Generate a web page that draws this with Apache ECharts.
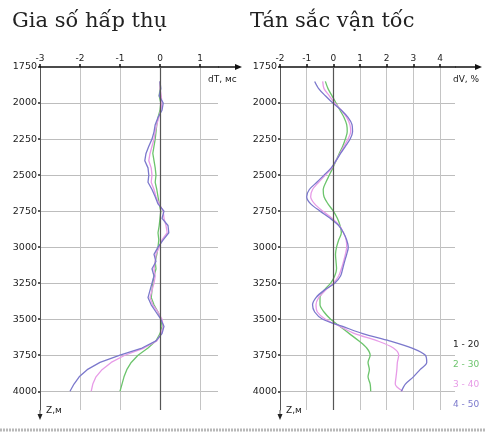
<!DOCTYPE html>
<html>
<head>
<meta charset="utf-8">
<script src="https://cdn.jsdelivr.net/npm/echarts@6/dist/echarts.min.js"></script>
<style>
  html, body { margin: 0; padding: 0; background: #fff; }
  #chart { width: 486px; height: 432px; }
</style>
</head>
<body>
<div id="chart"></div>
<script>
// Depth samples (m) and curve values for each panel
const depthLeft = [1850, 1900, 1950, 2000, 2050, 2100, 2150, 2200, 2250, 2300, 2350, 2400, 2450, 2500, 2550, 2600, 2650, 2700, 2750, 2800, 2850, 2900, 2950, 3000, 3050, 3100, 3150, 3200, 3250, 3300, 3350, 3400, 3450, 3500, 3550, 3600, 3650, 3700, 3750, 3800, 3850, 3900, 3950, 4000];
// dT, ms — absorption increment
const dT2 = [0, 0, -0.02, 0.02, 0, -0.05, -0.08, -0.1, -0.12, -0.15, -0.18, -0.15, -0.12, -0.1, -0.12, -0.08, -0.05, -0.02, 0.02, 0, -0.02, -0.05, -0.03, -0.05, -0.08, -0.12, -0.1, -0.15, -0.18, -0.2, -0.22, -0.15, -0.05, 0.03, 0.05, 0, -0.1, -0.3, -0.55, -0.72, -0.83, -0.9, -0.95, -1.0];
const dT3 = [0, 0, 0.03, 0.05, 0.02, -0.03, -0.08, -0.12, -0.15, -0.2, -0.25, -0.28, -0.22, -0.2, -0.22, -0.15, -0.1, -0.02, 0.08, 0.1, 0.15, 0.18, 0.05, -0.02, -0.1, -0.12, -0.15, -0.12, -0.15, -0.2, -0.25, -0.18, -0.05, 0.05, 0.08, 0.03, -0.08, -0.4, -0.88, -1.22, -1.45, -1.6, -1.68, -1.72];
const dT4 = [0, 0.02, -0.02, 0.08, 0.05, -0.05, -0.12, -0.15, -0.2, -0.28, -0.35, -0.38, -0.3, -0.28, -0.3, -0.2, -0.12, -0.05, 0.1, 0.05, 0.2, 0.22, 0.08, -0.05, -0.15, -0.1, -0.2, -0.15, -0.2, -0.25, -0.3, -0.22, -0.1, 0.02, 0.1, 0.05, -0.1, -0.45, -1.0, -1.5, -1.82, -2.02, -2.15, -2.25];

const depthRight = [1850, 1900, 1950, 2000, 2050, 2100, 2150, 2200, 2250, 2300, 2350, 2400, 2450, 2500, 2550, 2600, 2650, 2700, 2750, 2800, 2850, 2900, 2950, 3000, 3050, 3100, 3150, 3200, 3250, 3300, 3350, 3400, 3450, 3500, 3550, 3600, 3650, 3700, 3750, 3800, 3850, 3900, 3950, 4000];
// dV, % — velocity dispersion
const dV2 = [-0.3, -0.2, -0.05, 0.1, 0.25, 0.4, 0.5, 0.52, 0.45, 0.35, 0.22, 0.1, -0.02, -0.15, -0.28, -0.38, -0.35, -0.2, 0, 0.15, 0.25, 0.3, 0.2, 0.12, 0.08, 0.1, 0.12, 0.05, -0.1, -0.35, -0.5, -0.5, -0.35, -0.1, 0.25, 0.6, 0.95, 1.25, 1.38, 1.3, 1.35, 1.3, 1.38, 1.4];
const dV3 = [-0.4, -0.35, -0.15, 0.05, 0.3, 0.5, 0.62, 0.65, 0.55, 0.4, 0.25, 0.1, -0.05, -0.3, -0.55, -0.78, -0.85, -0.7, -0.4, -0.05, 0.22, 0.38, 0.48, 0.5, 0.45, 0.38, 0.3, 0.2, 0, -0.3, -0.55, -0.65, -0.6, -0.3, 0.25, 0.8, 1.65, 2.25, 2.45, 2.4, 2.38, 2.35, 2.32, 2.6];
const dV4 = [-0.7, -0.55, -0.3, -0.02, 0.3, 0.55, 0.7, 0.72, 0.63, 0.45, 0.27, 0.1, -0.08, -0.35, -0.62, -0.9, -1.0, -0.85, -0.5, -0.12, 0.2, 0.38, 0.5, 0.56, 0.5, 0.42, 0.35, 0.27, 0.05, -0.35, -0.65, -0.78, -0.7, -0.4, 0.35, 1.1, 2.1, 2.95, 3.45, 3.5, 3.25, 3.0, 2.7, 2.55];

const depthTicks = { min: 1750, max: 4130, interval: 250 };
const legendItems = ['1 - 20', '2 - 30', '3 - 40', '4 - 50'];

const COLORS = { c1: '#222222', c2: '#6cc46c', c3: '#e79be7', c4: '#7b78cc' };
const labelFont = { fontFamily: 'DejaVu Sans', fontSize: 9, color: '#222' };

function pairs(vals, depths) {
  return depths.map((d, i) => [vals[i], d]);
}

function xAxisFor(gridIndex, min, max) {
  return {
    type: 'value', gridIndex, position: 'top', min, max, interval: 1,
    axisLine: { show: true, onZero: false, lineStyle: { color: '#111', width: 1.5 } },
    axisTick: { show: true, length: 3, lineStyle: { color: '#111', width: 1.5 } },
    axisLabel: Object.assign({ margin: 4, showMaxLabel: false,
      formatter: v => (Number.isInteger(v) ? String(v) : '') }, labelFont),
    splitLine: { show: true, showMaxLine: false, lineStyle: { color: '#c4c4c4', width: 1 } }
  };
}

function yAxisFor(gridIndex) {
  return {
    type: 'value', gridIndex, inverse: true,
    min: depthTicks.min, max: depthTicks.max, interval: depthTicks.interval,
    axisLine: { show: true, onZero: false, lineStyle: { color: '#555', width: 1 } },
    axisTick: { show: true, length: 2, lineStyle: { color: '#222', width: 1.5 } },
    axisLabel: Object.assign({ margin: 3, showMaxLabel: false,
      formatter: v => (v % 250 === 0 ? String(v) : '') }, labelFont, { fontSize: 9.5 }),
    splitLine: { show: true, showMinLine: false, showMaxLine: false, lineStyle: { color: '#bdbdbd', width: 1 } }
  };
}

function curve(name, xi, data, color, smooth) {
  return {
    name, type: 'line', xAxisIndex: xi, yAxisIndex: xi, data,
    showSymbol: false, smooth, silent: true,
    lineStyle: { color, width: 1.3 }, itemStyle: { color },
    z: 3
  };
}

function zeroLine(xi) {
  return {
    type: 'line', xAxisIndex: xi, yAxisIndex: xi, data: [], silent: true,
    markLine: {
      symbol: 'none', silent: true, label: { show: false },
      lineStyle: { color: '#555', type: 'solid', width: 1.2 },
      data: [{ xAxis: 0 }]
    },
    z: 2
  };
}

function arrowRight(x0, x1, y) {
  return [
    { type: 'line', shape: { x1: x0, y1: y, x2: x1, y2: y }, style: { stroke: '#111', lineWidth: 1.5 } },
    { type: 'polygon', shape: { points: [[x1 + 3, y], [x1 - 4, y - 3], [x1 - 4, y + 3]] }, style: { fill: '#111' } }
  ];
}
function arrowDown(x, y0, y1) {
  return [
    { type: 'line', shape: { x1: x, y1: y0, x2: x, y2: y1 }, style: { stroke: '#555', lineWidth: 1 } },
    { type: 'polygon', shape: { points: [[x, y1 + 3], [x - 2.5, y1 - 3], [x + 2.5, y1 - 3]] }, style: { fill: '#222' } }
  ];
}

const smallText = (x, y, text, color) => ({
  type: 'text', x, y,
  style: { text, fill: color || '#222', font: '9px "DejaVu Sans"', textVerticalAlign: 'middle' }
});

const legendColors = [COLORS.c1, COLORS.c2, COLORS.c3, COLORS.c4];
const legendY = [345, 365, 385, 405];

const titleStyle = { fontFamily: 'DejaVu Serif', fontSize: 21, fontWeight: 'normal', color: '#222' };

const chart = echarts.init(document.getElementById('chart'), null, { renderer: 'canvas' });
chart.setOption({
  backgroundColor: '#ffffff',
  animation: false,
  title: [
    { text: 'Gia số hấp thụ', left: 7, top: 6, textStyle: titleStyle },
    { text: 'Tán sắc vận tốc', left: 245, top: 6, textStyle: titleStyle }
  ],
  grid: [
    { left: 40, top: 67, width: 178, height: 343 },
    { left: 280, top: 67, width: 175, height: 343 }
  ],
  xAxis: [xAxisFor(0, -3, 1.45), xAxisFor(1, -2, 4.56)],
  yAxis: [yAxisFor(0), yAxisFor(1)],
  series: [
    zeroLine(0),
    curve('2', 0, pairs(dT2, depthLeft), COLORS.c2, false),
    curve('3', 0, pairs(dT3, depthLeft), COLORS.c3, false),
    curve('4', 0, pairs(dT4, depthLeft), COLORS.c4, false),
    zeroLine(1),
    curve('2', 1, pairs(dV2, depthRight), COLORS.c2, 0.3),
    curve('3', 1, pairs(dV3, depthRight), COLORS.c3, 0.3),
    curve('4', 1, pairs(dV4, depthRight), COLORS.c4, 0.3)
  ],
  graphic: [
    ...arrowRight(218, 239, 67),
    ...arrowRight(455, 479, 67),
    ...arrowDown(40, 410, 417),
    ...arrowDown(280, 410, 417),
    smallText(208, 80, 'dT, мс'),
    smallText(453, 80, 'dV, %'),
    smallText(46, 411, 'Z,м'),
    smallText(286, 411, 'Z,м'),
    ...legendItems.map((t, i) => smallText(453, legendY[i], t, legendColors[i])),
    { type: 'line', shape: { x1: 0, y1: 430, x2: 486, y2: 430 },
      style: { stroke: '#b8b8b8', lineWidth: 3, lineDash: [2, 1] } }
  ]
});
</script>
</body>
</html>
